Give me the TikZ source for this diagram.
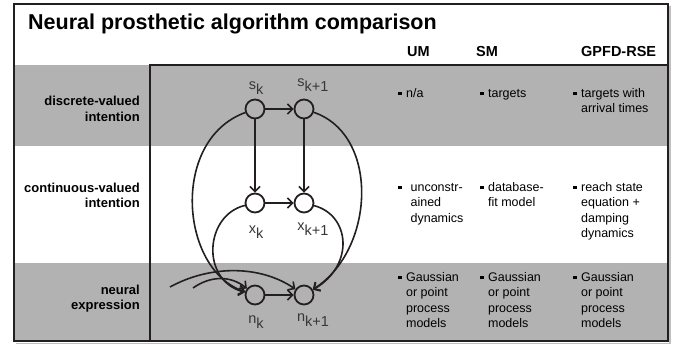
\documentclass[tikz,border=0pt]{standalone}
\usepackage{fontspec}
\setmainfont{Liberation Sans}
\usetikzlibrary{arrows.meta}
\definecolor{ink}{HTML}{231F20}
\definecolor{band}{gray}{0.70}
\definecolor{lblgray}{gray}{0.22}
\newcommand\bul{\rule[1.6pt]{3.4pt}{3.4pt}}
\newcommand\lowsub[2]{#1\raisebox{-4.5pt}{#2}}
\newcommand\cellrows[2][4.5pt]{\begin{tabular}[t]{@{}l@{\hspace{#1}}l@{}}\bul&#2\end{tabular}}
\newcommand\rowname[1]{\begin{tabular}[t]{@{}r@{}}#1\end{tabular}}
\begin{document}
\begin{tikzpicture}[x=1pt,y=-1pt,
  st/.style={circle,draw=ink,line width=1.8pt,minimum size=19pt,inner sep=0pt},
  arr/.style={draw=ink,line width=1.6pt,-{Straight Barb[length=5pt,width=10pt]}},
  lbl/.style={text=lblgray,font=\fontsize{14.5}{14.5}\selectfont,inner sep=0pt},
  cell/.style={anchor=base west,inner sep=0pt,font=\fontsize{12.5}{15.5}\selectfont},
  rowlbl/.style={anchor=base east,inner sep=0pt,font=\fontsize{13}{15.5}\selectfont\bfseries},
  head/.style={anchor=base west,inner sep=0pt,font=\fontsize{14.5}{16}\selectfont\bfseries}]
\useasboundingbox (0,0) rectangle (680,345);
\fill[white] (0,0) rectangle (680,345);
\fill[band] (14,65) rectangle (668,146);
\fill[band] (14,263) rectangle (668,341);
\draw[black!25,line width=1.5pt] (16,343.5) -- (670,343.5) -- (670,6);
\draw[ink,line width=2pt] (14,4) rectangle (668,341);
\draw[ink,line width=2.2pt] (150,65) rectangle (668,341);
\node[anchor=base west,inner sep=0pt,font=\fontsize{21.5}{24}\selectfont\bfseries] (title) at (28,30) {Neural prosthetic algorithm comparison};
\node[head] (um) at (407,57) {UM};
\node[head] (sm) at (476,57) {SM};
\node[head] (gp) at (581,57) {GPFD-RSE};
\node[rowlbl] (dlbl) at (140,106) {\rowname{discrete-valued\\intention}};
\node[rowlbl] (clbl) at (140,192) {\rowname{continuous-valued\\intention}};
\node[rowlbl] (nlbl) at (140,294) {\rowname{neural\\expression}};
\node[st] (sk) at (255,109) {};
\node[st] (sk1) at (304,109) {};
\node[st] (xk) at (255,203) {};
\node[st] (xk1) at (304,203) {};
\node[st] (nk) at (255,295) {};
\node[st] (nk1) at (304,295) {};
\coordinate (hk) at (193,288);
\coordinate (hk1) at (170,287);
\node[lbl] (sklbl) at (256,88) {\lowsub{s}{k}};
\node[lbl] (sk1lbl) at (313,85) {\lowsub{s}{k+1}};
\node[lbl] (xklbl) at (256,232) {\lowsub{x}{k}};
\node[lbl] (xk1lbl) at (313,229) {\lowsub{x}{k+1}};
\node[lbl] (nklbl) at (256,322) {\lowsub{n}{k}};
\node[lbl] (nk1lbl) at (313,320) {\lowsub{n}{k+1}};
\draw[arr] (sk) -- (sk1);
\draw[arr] (xk) -- (xk1);
\draw[arr] (nk) -- (nk1);
\draw[arr] (sk) -- (xk);
\draw[arr] (sk1) -- (xk1);
\draw[arr] (sk) .. controls (170,140) and (180,270) .. (nk);
\draw[arr] (xk) .. controls (205,215) and (200,280) .. (nk);
\draw[arr] (sk1) .. controls (380,135) and (375,250) .. (nk1);
\draw[arr] (xk1) .. controls (350,215) and (355,265) .. (nk1);
\draw[arr] (hk) .. controls (210,276) and (230,275) .. (nk);
\draw[arr] (hk1) .. controls (210,265) and (260,265) .. (nk1);
\node[cell] (um1) at (398,97) {\cellrows{n/a}};
\node[cell] (sm1) at (480,97) {\cellrows{targets}};
\node[cell] (gp1) at (573,97) {\cellrows{targets with\\&arrival times}};
\node[cell] (um2) at (398,191) {\cellrows[9pt]{unconstr-\\&ained\\&dynamics}};
\node[cell] (sm2) at (480,191) {\cellrows{database-\\&fit model}};
\node[cell] (gp2) at (573,191) {\cellrows{reach state\\&equation +\\&damping\\&dynamics}};
\node[cell] (um3) at (398,281) {\cellrows{Gaussian\\&or point\\&process\\&models}};
\node[cell] (sm3) at (480,281) {\cellrows{Gaussian\\&or point\\&process\\&models}};
\node[cell] (gp3) at (573,281) {\cellrows{Gaussian\\&or point\\&process\\&models}};
\end{tikzpicture}
\end{document}
